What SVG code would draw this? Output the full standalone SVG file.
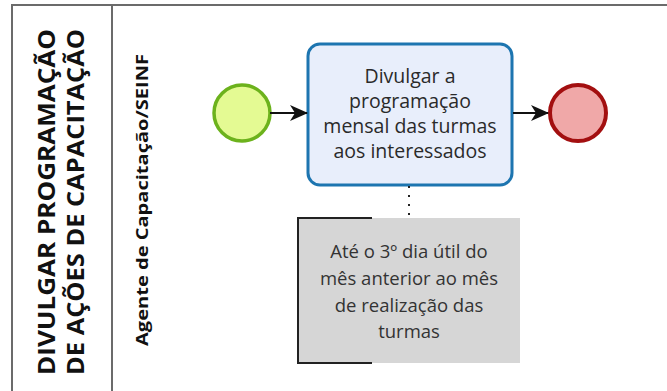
<svg xmlns="http://www.w3.org/2000/svg" width="667" height="391" viewBox="0 0 667 391">
<style>
.pool{fill:none;stroke:#6b6b6b;stroke-width:2}
.t{font-family:"Open Sans","DejaVu Sans",sans-serif;fill:#2a2a2a}
.hdr{font-weight:bold;font-size:23px;fill:#111}
.lane{font-weight:bold;font-size:16px;fill:#111}
.task{font-size:19.5px;text-anchor:middle}
.note{font-size:18.5px;text-anchor:middle;fill:#333}
.flow{fill:none;stroke:#111;stroke-width:2}
</style>
<defs>
<marker id="arr" viewBox="0 0 18 18" refX="17" refY="9" markerWidth="18" markerHeight="18" markerUnits="userSpaceOnUse" orient="auto">
<path d="M0,1 L18,9 L0,17 L5,9 Z" fill="#111"/>
</marker>
</defs>
<g id="pool">
<path class="pool" d="M12,391 V5 H667 M112,5 V391"/>
<text class="t hdr" transform="translate(55,202) rotate(-90)" text-anchor="middle" textLength="346" lengthAdjust="spacingAndGlyphs">DIVULGAR PROGRAMAÇÃO</text>
<text class="t hdr" transform="translate(84,202) rotate(-90)" text-anchor="middle" textLength="346" lengthAdjust="spacingAndGlyphs">DE AÇÕES DE CAPACITAÇÃO</text>
<text class="t lane" transform="translate(148,200) rotate(-90)" text-anchor="middle" textLength="292" lengthAdjust="spacingAndGlyphs">Agente de Capacitação/SEINF</text>
</g>
<g id="start">
<circle cx="242" cy="113" r="28" fill="#e4fa93" stroke="#6cb21c" stroke-width="3.5"/>
</g>
<g id="task">
<rect x="308" y="44" width="204" height="141" rx="12" fill="#e8eefb" stroke="#1d75b0" stroke-width="3"/>
<text class="t task" x="410" y="83">Divulgar a</text>
<text class="t task" x="410" y="108">programação</text>
<text class="t task" x="410" y="133">mensal das turmas</text>
<text class="t task" x="410" y="158">aos interessados</text>
</g>
<g id="end">
<circle cx="578" cy="113" r="28" fill="#f0a8a8" stroke="#a30f10" stroke-width="4"/>
</g>
<g id="annotation">
<rect x="298" y="218" width="222" height="145" fill="#d6d6d6"/>
<path d="M372,218 H298 V363 H372" fill="none" stroke="#222" stroke-width="2"/>
<text class="t note" x="409" y="258">Até o 3º dia útil do</text>
<text class="t note" x="409" y="285">mês anterior ao mês</text>
<text class="t note" x="409" y="312">de realização das</text>
<text class="t note" x="409" y="338">turmas</text>
</g>
<g id="connectors">
<path class="flow" d="M270,113 H307" marker-end="url(#arr)"/>
<path class="flow" d="M513,113 H548" marker-end="url(#arr)"/>
<path d="M409,186 V218" fill="none" stroke="#222" stroke-width="2" stroke-dasharray="2,7"/>
</g>
</svg>
